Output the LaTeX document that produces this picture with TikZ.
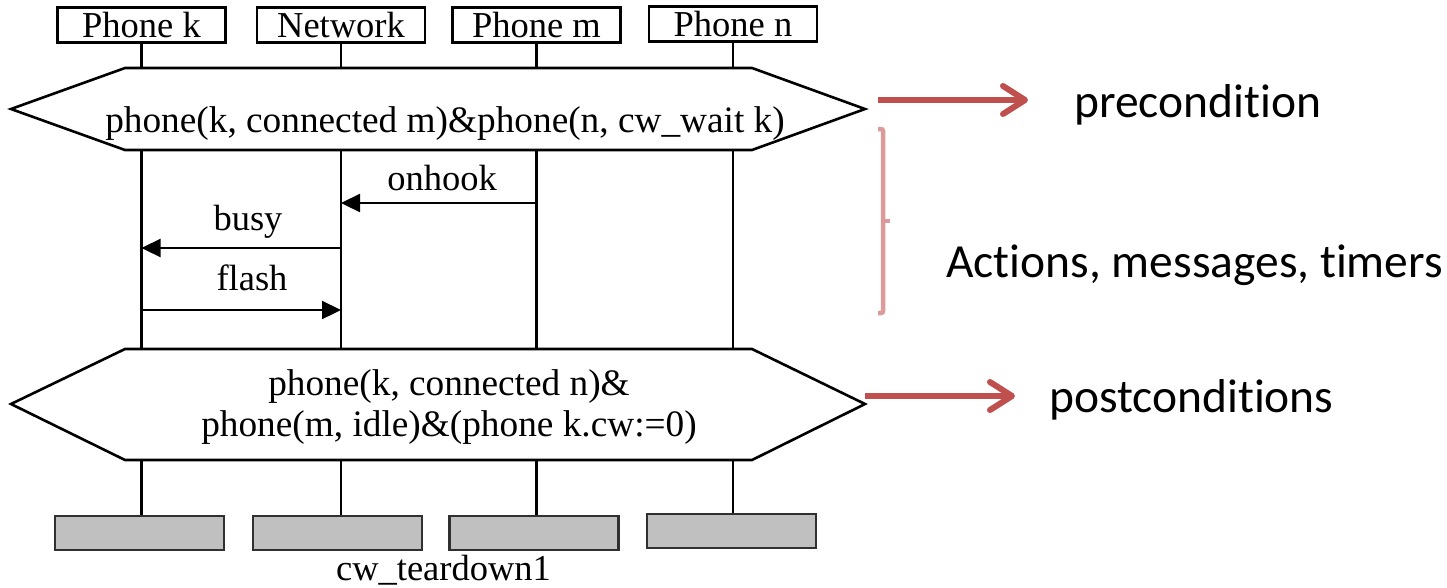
\documentclass[tikz,border=0pt]{standalone}
\usepackage{fontspec}
\setmainfont{Liberation Serif}
\newfontfamily\calibrifont[Ligatures=NoCommon]{Carlito}
\usetikzlibrary{arrows.meta}
\definecolor{pptred}{HTML}{C0504D}
\definecolor{bracketred}{HTML}{DC9A9A}
\definecolor{boxgrey}{HTML}{C0C0C0}
\definecolor{boxedge}{HTML}{303030}

\begin{document}
\begin{tikzpicture}[x=1pt,y=-1pt,
  line width=2.6pt,
  serif/.style={font=\fontsize{36.5}{41}\selectfont},
  condtext/.style={font=\fontsize{37.3}{41.5}\selectfont, inner sep=0pt},
  headbox/.style={draw, serif, minimum width=168pt, minimum height=35pt, inner sep=0pt, fill=white},
  endbox/.style={draw=boxedge, fill=boxgrey, minimum width=169pt, minimum height=34pt, inner sep=0pt},
  lifeline/.style={draw, line width=2.6pt},
  cond/.style={draw, fill=white, line width=2.6pt, line join=miter},
  msg/.style={-{Triangle[length=19pt,width=18pt]}, line width=2.3pt},
  msglabel/.style={serif, anchor=base, inner sep=0pt},
  note/.style={font=\calibrifont\fontsize{47.5}{54}\selectfont, anchor=base west, inner sep=0pt},
  redarrow/.style={pptred, line width=6pt, -{Straight Barb[length=22pt,width=28pt,round]}},
  bracketline/.style={bracketred, line width=4.5pt},
]
\useasboundingbox (0,0) rectangle (1447,587);

% instance heads
\node[headbox] (hk)   at (141.5,25) {Phone k};
\node[headbox] (hnet) at (341,25)   {Network};
\node[headbox] (hm)   at (536.5,25) {Phone m};
\node[headbox] (hn)   at (733,24)   {Phone n};

% instance ends
\node[endbox] (ek)   at (139.5,533) {};
\node[endbox] (enet) at (337.5,533) {};
\node[endbox] (em)   at (534,533)   {};
\node[endbox] (en)   at (731.5,531) {};

% lifelines
\draw[lifeline] (hk.south)   -- (hk.south |- ek.north);
\draw[lifeline] (hnet.south) -- (hnet.south |- enet.north);
\draw[lifeline] (hm.south)   -- (hm.south |- em.north);
\draw[lifeline] (hn.south)   -- (hn.south |- en.north);

% precondition condition symbol
\draw[cond] (11,109) -- (125,68) -- (752,68) -- (865,109) -- (752,150) -- (125,150) -- cycle;
\node[condtext, anchor=base] (pre) at (445,132)
  {phone(k, connected m)\&phone(n, cw\_wait k)};

% postcondition condition symbol
\draw[cond] (11,404) -- (125,349) -- (752,349) -- (865,404) -- (752,460) -- (125,460) -- cycle;
\node[condtext, align=center] (post) at (449,407)
  {phone(k, connected n)\&\\phone(m, idle)\&(phone k.cw:=0)};

% messages
\draw[msg] (hm |- 0,203)   -- (hnet |- 0,203);
\draw[msg] (hnet |- 0,248) -- (hk |- 0,248);
\draw[msg] (hk |- 0,310)   -- (hnet |- 0,310);
\node[msglabel] (lonhook) at (442,190) {onhook};
\node[msglabel] (lbusy)   at (248,230) {busy};
\node[msglabel] (lflash)  at (252,290) {flash};

% chart name
\node[msglabel] (chartname) at (443.5,580) {cw\_teardown1};

% annotations
\node[note] (tpre)  at (1073,117) {precondition};
\node[note] (tact)  at (945,277)  {Actions, messages, timers};
\node[note] (tpost) at (1048,412) {postconditions};

\coordinate (preA)  at (878,100);
\coordinate (preB)  at (1028,100);
\coordinate (postA) at (865,396);
\coordinate (postB) at (1015,396);
\draw[redarrow] (preA) -- (preB);
\draw[redarrow] (postA) -- (postB);

% bracket around the action part
\draw[bracketline, rounded corners=2pt] (878,129) -- (883,129) -- (883,313) -- (878,313);
\draw[bracketline] (883,221) -- (890,221);
\end{tikzpicture}
\end{document}
